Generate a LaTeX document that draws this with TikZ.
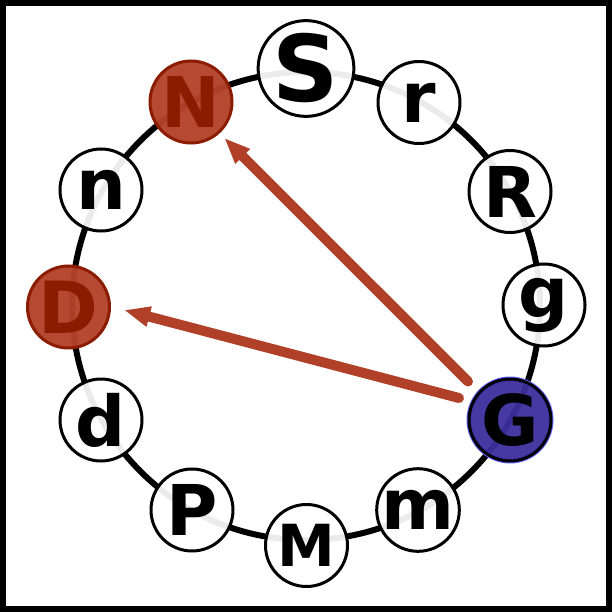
\documentclass[tikz,border=0pt]{standalone}
\usepackage{fontspec}
\setmainfont{DejaVu Sans}
\usetikzlibrary{arrows.meta,calc}
\definecolor{redfill}{RGB}{178,66,42}
\definecolor{redline}{RGB}{140,28,0}
\definecolor{arrowred}{RGB}{176,64,40}
\definecolor{gfill}{RGB}{62,46,158}
\definecolor{ghalo}{RGB}{100,100,255}
\begin{document}
\begin{tikzpicture}[x=1pt,y=-1pt,
  vtx/.style={circle,draw=black,line width=3pt,fill=white,fill opacity=0.92,text opacity=1,
    minimum size=82pt,inner sep=0pt,font=\fontsize{70pt}{70pt}\selectfont\bfseries},
  bigvtx/.style={vtx,minimum size=95pt,font=\fontsize{92pt}{92pt}\selectfont\bfseries},
  redvtx/.style={vtx,draw=redline,fill=redfill,fill opacity=0.96,text=redline},
  bluevtx/.style={vtx,fill=gfill,fill opacity=0.95,preaction={draw=ghalo,line width=5pt}},
  arr/.style={draw=arrowred,line width=10pt,line cap=round,-{Triangle[length=26pt,width=19pt]}},
  ring/.style={line width=6pt,draw=black}]
\useasboundingbox (0,0) rectangle (612,612);
\fill[white] (0,0) rectangle (612,612);
\draw[ring] (306,306) circle[radius=234pt];
\node[bigvtx] (S) at (306,68.5) {S};
\node[vtx] (r) at (419,102.5) {r};
\node[vtx] (R) at (510,191.5) {R};
\node[vtx] (g) at (544,305) {g};
\node[bluevtx] (G) at (510,420) {G};
\node[vtx] (m) at (418,510) {m};
\node[vtx,font=\fontsize{58pt}{58pt}\selectfont\bfseries] (M) at (306.5,545.5) {M};
\node[vtx] (P) at (192,510) {P};
\node[vtx] (d) at (101,420) {d};
\node[redvtx,font=\fontsize{72pt}{72pt}\selectfont\bfseries] (D) at (68.5,307) {D};
\node[vtx] (n) at (101,190) {n};
\node[redvtx] (N) at (191,102) {N};
\draw[arr] ($(G.center)+(-42,-38.5)$) -- ($(N.center)+(33.3,36)$);
\draw[arr] ($(G.center)+(-51,-22)$) -- ($(D.center)+(55.5,3)$);
\draw[line width=6pt] (3,3) rectangle (609,609);
\end{tikzpicture}
\end{document}
